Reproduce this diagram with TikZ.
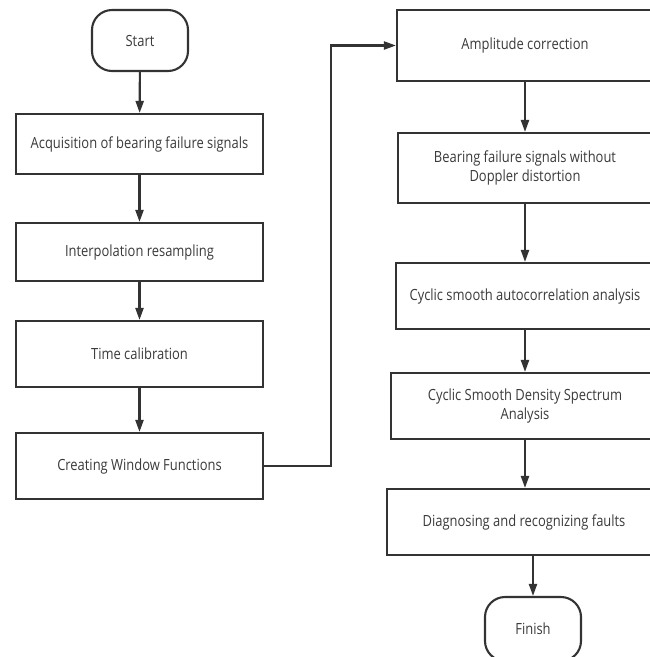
\documentclass[tikz,border=0pt]{standalone}
\usepackage{fontspec}
\setmainfont[FakeStretch=0.84]{Open Sans}
\usetikzlibrary{arrows.meta,positioning,calc}
\definecolor{ink}{HTML}{333333}
\definecolor{txt}{HTML}{3A3A3A}
\begin{document}
\begin{tikzpicture}[x=1pt,y=-1pt,
  box/.style={draw=ink,line width=2.1pt,rectangle,inner sep=0pt,text=txt,
    font=\fontsize{15.4}{19}\selectfont,align=center},
  term/.style={box,rounded corners=20pt},
  flow/.style={draw=ink,line width=2.1pt,-{Triangle[length=12pt,width=8pt]}}]
\useasboundingbox (0,0) rectangle (650,657);
\clip (0,0) rectangle (650,657);
% left column
\node[term,minimum width=96pt,minimum height=61pt] (start) at (140,40.5) {Start};
\node[box,minimum width=247pt,minimum height=60pt] (b1) at (139.5,144) {Acquisition of bearing failure signals};
\node[box,minimum width=247pt,minimum height=58pt] (b2) at (139.5,252) {Interpolation resampling};
\node[box,minimum width=247pt,minimum height=66pt] (b3) at (139.5,354) {Time calibration};
\node[box,minimum width=247pt,minimum height=66pt] (b4) at (139.5,466) {Creating Window Functions};
% right column
\node[box,minimum width=256pt,minimum height=71pt] (ra) at (525,45.5) {Amplitude correction};
\node[box,minimum width=254pt,minimum height=70pt] (rb) at (525,168) {Bearing failure signals without\\Doppler distortion};
\node[box,minimum width=258pt,minimum height=66pt] (rc) at (525,296) {Cyclic smooth autocorrelation analysis};
\node[box,minimum width=268pt,minimum height=66pt] (rd) at (525,406) {Cyclic Smooth Density Spectrum\\Analysis};
\node[box,minimum width=274pt,minimum height=66pt] (re) at (524,522) {Diagnosing and recognizing faults};
\node[term,minimum width=96pt,minimum height=64pt] (fin) at (533,629) {Finish};
\coordinate (col) at (525,0);
\coordinate (turn) at (331,0);
% connectors
\draw[flow] (start) -- (b1);
\draw[flow] (b1) -- (b2);
\draw[flow] (b2) -- (b3);
\draw[flow] (b3) -- (b4);
\draw[flow] (b4.east) -| (turn |- ra.west) -- (ra.west);
\draw[flow] (ra.south -| col) -- (rb.north -| col);
\draw[flow] (rb.south -| col) -- (rc.north -| col);
\draw[flow] (rc.south -| col) -- (rd.north -| col);
\draw[flow] (rd.south -| col) -- (re.north -| col);
\draw[flow] (re.south -| fin.north) -- (fin.north);
\end{tikzpicture}
\end{document}
